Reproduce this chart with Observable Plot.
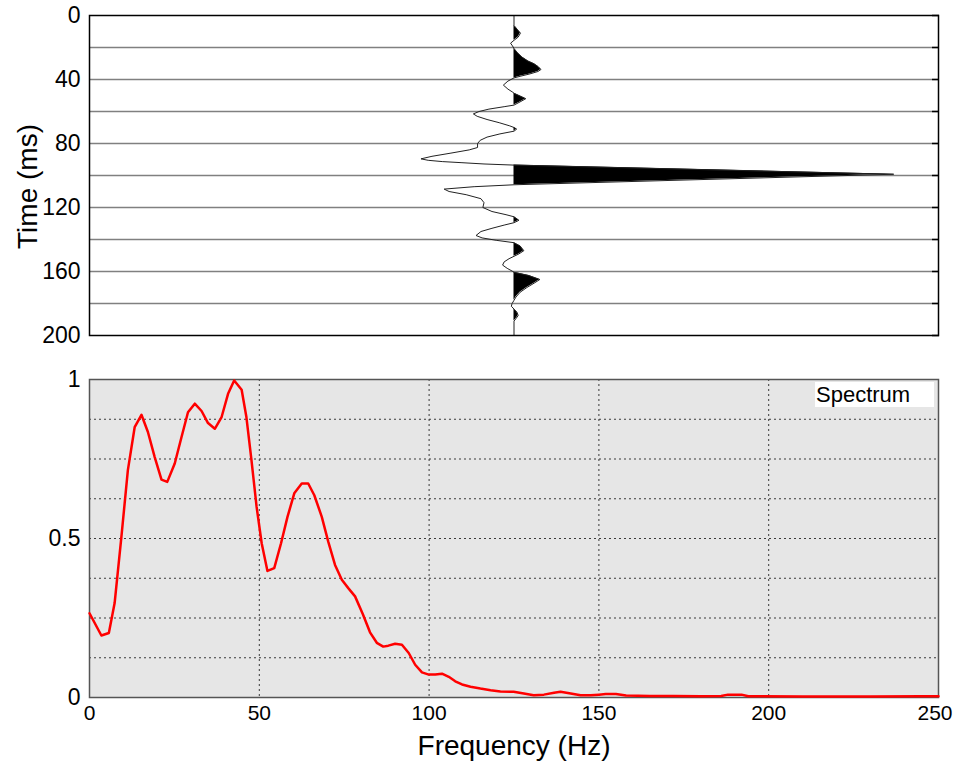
<!DOCTYPE html>
<html><head><meta charset="utf-8">
<script src="https://cdn.jsdelivr.net/npm/d3@7"></script>
<script src="https://cdn.jsdelivr.net/npm/@observablehq/plot@0.6"></script>
<style>
body{margin:0;background:#fff;font-family:"Liberation Sans",Arial,sans-serif;}
#wrap{position:relative;width:953px;height:765px;}
#wrap svg{display:block;}
#legend{position:absolute;left:815px;top:382px;width:119px;height:25px;background:#fff;font-size:22px;line-height:25px;padding-left:1px;box-sizing:border-box;color:#000;}
</style></head><body><div id="wrap"></div>
<script>
// Wiggle trace (time in ms, normalized amplitude)
const traceTime = [0,6.2,8.5,11,13.5,15.5,17.3,19,20.6,23,26,28.5,30.2,32,33.75,35,36.5,38,39,41,43.5,46,48,48.6,50,52,54,56,57,58.5,60,61.5,63,65,67,69,70,71,72.3,74,76,78,80,82.5,84,86,88,89.6,90.5,91.3,92,92.8,93.5,99.2,105.8,107,108.5,110,112,114.5,117,120,122.5,124.5,125.8,128,129.5,131,133,135,137.5,139,140.5,142,144,147,149,150.5,152,154,156,158,160,160.5,162.5,165,167,170,173,176,178,180,181.7,183.5,185.5,187.5,189.5,191,200];
const traceAmp = [0,0,0.008,0.017,0.011,0,-0.009,-0.004,0,0.008,0.021,0.037,0.053,0.064,0.071,0.063,0.042,0.016,0,-0.016,-0.028,-0.016,-0.003,0,0.013,0.031,0.016,0,-0.026,-0.066,-0.092,-0.107,-0.097,-0.071,-0.039,-0.011,0,0.007,0,-0.037,-0.071,-0.089,-0.096,-0.096,-0.118,-0.166,-0.216,-0.245,-0.226,-0.189,-0.137,-0.079,0,1,0,-0.105,-0.184,-0.171,-0.126,-0.087,-0.079,-0.082,-0.058,-0.021,0,0.013,0,-0.026,-0.058,-0.087,-0.1,-0.084,-0.047,0,0.016,0.026,0.013,0,-0.013,-0.026,-0.03,-0.018,-0.003,0,0.039,0.068,0.055,0.034,0.016,0.005,0,-0.005,-0.007,0,0.008,0.011,0.005,0,0];
const timeTickLabels = [0,40,80,120,160,200];
const timeGrid = [20,40,60,80,100,120,140,160,180];
const timeTicks = [0,20,40,60,80,100,120,140,160,180,200];

// Amplitude spectrum
const freq = [0,3.5,5.7,7.4,9.4,11.3,13.3,15.3,17.2,19.2,21.2,22.9,25.1,27.1,29,31,33,34.9,36.9,38.9,40.8,42.6,44.8,46.2,47.7,49.2,50.7,52.4,54.4,56.4,58.3,60.3,62.5,64.4,66.2,68.4,70.3,72.3,74.3,76.2,78.2,80.5,82.6,84.6,86.5,88,90,92,94,95.9,97.9,99.9,101.8,103.8,105.8,107.7,109.7,112.2,115.1,118.1,121,124.9,127.9,130.8,133.8,136.8,138.7,141.7,144.6,147.6,150,152,155,158,165,172,180,186,188,192,194,210,230,245,250];
const spectrum = [0.265,0.195,0.203,0.297,0.506,0.715,0.85,0.889,0.835,0.756,0.685,0.678,0.736,0.819,0.897,0.924,0.901,0.863,0.845,0.882,0.955,0.997,0.968,0.882,0.746,0.6,0.485,0.398,0.407,0.485,0.568,0.642,0.673,0.673,0.636,0.568,0.49,0.417,0.37,0.344,0.318,0.262,0.205,0.172,0.16,0.163,0.169,0.166,0.14,0.103,0.079,0.072,0.072,0.075,0.065,0.051,0.041,0.034,0.028,0.023,0.019,0.018,0.0125,0.007,0.009,0.015,0.018,0.0125,0.007,0.007,0.009,0.011,0.011,0.006,0.005,0.005,0.004,0.005,0.009,0.009,0.004,0.003,0.003,0.004,0.004];
const freqTicks = [0,50,100,150,200];
const freqLastTick = [250];
const freqGrid = [50,100,150,200];
const ampTicks = [0,0.5,1];
const ampGrid = [0.125,0.25,0.375,0.5,0.625,0.75,0.875];
const legendLabel = "Spectrum";

const font = "Liberation Sans, Arial, sans-serif";
const trace = traceTime.map((t, i) => ({t, a: traceAmp[i]}));
const spec = freq.map((f, i) => ({f, v: spectrum[i]}));

const topPlot = Plot.plot({
  width: 953, height: 345,
  marginTop: 15, marginBottom: 10, marginLeft: 89, marginRight: 15,
  style: {fontFamily: font, color: "#000", background: "transparent", overflow: "visible"},
  x: {domain: [-1.118, 1.118], axis: null},
  y: {domain: [0, 200], reverse: true, label: null},
  marks: [
    Plot.ruleY(timeGrid, {stroke: "#808080", strokeWidth: 1.5}),
    Plot.areaX(trace, {y: "t", x1: 0, x2: d => Math.max(0, d.a), fill: "#000", curve: "linear"}),
    Plot.line(trace, {x: "a", y: "t", stroke: "#222", strokeWidth: 1, curve: "linear"}),
    Plot.axisY(timeTickLabels, {anchor: "left", tickSize: 0, tickPadding: 9, fontSize: 23, label: null}),
    Plot.axisY(timeTicks, {anchor: "right", tickSize: -7, tickFormat: () => "", label: null, strokeWidth: 1.5}),
    Plot.frame({stroke: "#000", strokeWidth: 1.5}),
    Plot.text(["Time (ms)"], {frameAnchor: "left", text: d => d, textAnchor: "middle", lineAnchor: "middle", dx: -61, dy: 11, rotate: -90, fontSize: 28})
  ]
});

const bottomPlot = Plot.plot({
  width: 953, height: 420,
  marginTop: 34, marginBottom: 68, marginLeft: 89, marginRight: 15,
  style: {fontFamily: font, color: "#000", background: "transparent", overflow: "visible"},
  x: {domain: [0, 250], label: null},
  y: {domain: [0, 1], label: null},
  marks: [
    Plot.frame({fill: "#e6e6e6"}),
    Plot.ruleX(freqGrid, {stroke: "#3a3a3a", strokeDasharray: "2,3", strokeWidth: 1}),
    Plot.ruleY(ampGrid, {stroke: "#3a3a3a", strokeDasharray: "2,3", strokeWidth: 1}),
    Plot.frame({stroke: "#555", strokeWidth: 1.5}),
    Plot.line(spec, {x: "f", y: "v", stroke: "#ff0000", strokeWidth: 2.5, curve: "linear"}),
    Plot.axisX(freqTicks, {tickSize: 0, tickPadding: 8, fontSize: 21, label: null}),
    Plot.axisX(freqLastTick, {tickSize: 0, tickPadding: 8, fontSize: 21, label: null, textAnchor: "end", dx: 14}),
    Plot.axisY(ampTicks, {tickSize: 0, tickPadding: 9, fontSize: 23, label: null, tickFormat: d => `${d}`}),
    Plot.text(["Frequency (Hz)"], {frameAnchor: "bottom", text: d => d, textAnchor: "middle", lineAnchor: "middle", dy: 49, fontSize: 28})
  ]
});

const wrap = document.getElementById("wrap");
wrap.appendChild(topPlot);
wrap.appendChild(bottomPlot);
const legend = document.createElement("div");
legend.id = "legend";
legend.textContent = legendLabel;
wrap.appendChild(legend);
</script>
</body></html>
